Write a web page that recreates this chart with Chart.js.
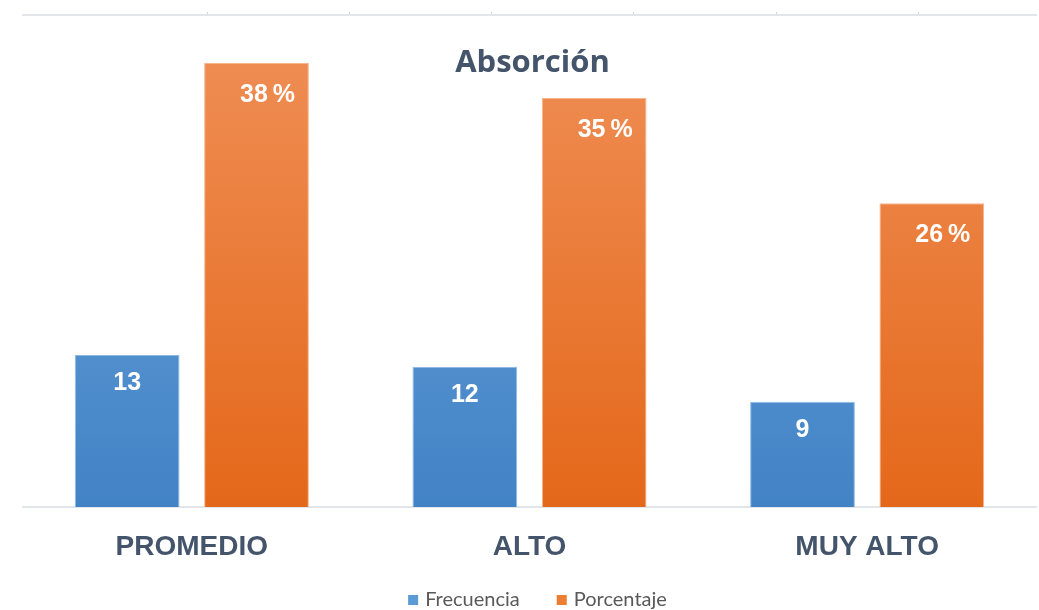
<!DOCTYPE html>
<html>
<head>
<meta charset="utf-8">
<script src="https://cdn.jsdelivr.net/npm/chart.js@4.4.1/dist/chart.umd.min.js"></script>
<style>
  html, body { margin: 0; padding: 0; background: #ffffff; }
  #wrap { width: 1039px; height: 610px; position: relative; }
</style>
</head>
<body>
<div id="wrap"><canvas id="chart"></canvas></div>
<script>
// values
const categories = ['PROMEDIO', 'ALTO', 'MUY ALTO'];
const frecuencia = [13, 12, 9];
const porcentaje = [38, 35, 26];
const topTicks = [1, 2, 3, 4, 5, 6];
const chartTitle = 'Absorción';
const legendColors = ['#5b9bd5', '#ed7d31'];

const TITLE_COLOR = '#44546a';

function vGradient(ctx, top, bottom) {
  const chart = ctx.chart;
  const area = chart.chartArea;
  if (!area) return top;
  const g = chart.ctx.createLinearGradient(0, area.top, 0, area.bottom);
  g.addColorStop(0, top);
  g.addColorStop(1, bottom);
  return g;
}

// title sits inside the plot area, like the Excel original
const innerTitle = {
  id: 'innerTitle',
  afterDraw(chart) {
    const { ctx, chartArea } = chart;
    ctx.save();
    ctx.font = 'bold 31px "Open Sans", sans-serif';
    ctx.fillStyle = TITLE_COLOR;
    ctx.textAlign = 'center';
    ctx.textBaseline = 'middle';
    ctx.fillText(chartTitle, (chartArea.left + chartArea.right) / 2 + 3, chartArea.top + 48);
    ctx.restore();
  }
};

// white value labels inside the top of each bar
const barLabels = {
  id: 'barLabels',
  afterDatasetsDraw(chart) {
    const { ctx } = chart;
    ctx.save();
    ctx.fillStyle = '#ffffff';
    ctx.textBaseline = 'middle';
    ctx.textAlign = 'center';
    ctx.font = 'bold 25px "Liberation Sans", Arial, sans-serif';
    chart.data.datasets.forEach((ds, di) => {
      const meta = chart.getDatasetMeta(di);
      meta.data.forEach((bar, i) => {
        const v = ds.data[i];
        if (di === 0) {
          ctx.fillText(String(v), bar.x, bar.y + 28);
        } else {
          ctx.fillText(v + '\u2009%', bar.x + 11, bar.y + 32);
        }
      });
    });
    ctx.restore();
  }
};

// legend drawn by hand so it can sit close to the bottom edge
const bottomLegend = {
  id: 'bottomLegend',
  afterDraw(chart) {
    const { ctx, chartArea } = chart;
    const box = 10, gap = 7, spacing = 37;
    ctx.save();
    ctx.font = '20px Lato, "Open Sans", sans-serif';
    const items = chart.data.datasets.map((ds, i) => ({
      text: ds.label,
      color: legendColors[i],
      w: ctx.measureText(ds.label).width
    }));
    const total = items.reduce((s, it) => s + box + gap + it.w, 0) + spacing * (items.length - 1);
    let x = (chartArea.left + chartArea.right) / 2 + 8 - total / 2;
    const y = chart.height - 10;
    ctx.textBaseline = 'middle';
    ctx.textAlign = 'left';
    items.forEach(it => {
      ctx.fillStyle = it.color;
      ctx.fillRect(x, y - box / 2, box, box);
      x += box + gap;
      ctx.fillStyle = '#595959';
      ctx.fillText(it.text, x, y);
      x += it.w + spacing;
    });
    ctx.restore();
  }
};

const ctx = document.getElementById('chart').getContext('2d');
new Chart(ctx, {
  type: 'bar',
  data: {
    labels: categories,
    datasets: [
      {
        label: 'Frecuencia',
        data: frecuencia,
        backgroundColor: c => vGradient(c, '#70a7dd', '#4283c6'),
        borderColor: '#8dbbe6',
        borderWidth: 1,
        categoryPercentage: 0.766,
        barPercentage: 0.81
      },
      {
        label: 'Porcentaje',
        data: porcentaje,
        backgroundColor: c => vGradient(c, '#f09058', '#e4681a'),
        borderColor: '#f7b58c',
        borderWidth: 1,
        categoryPercentage: 0.766,
        barPercentage: 0.81
      }
    ]
  },
  options: {
    responsive: true,
    maintainAspectRatio: false,
    animation: false,
    layout: { padding: { top: 12, left: 23, right: 3, bottom: 22 } },
    plugins: {
      title: { display: false },
      tooltip: { enabled: false },
      legend: { display: false }
    },
    scales: {
      x: {
        grid: { display: false, drawTicks: false },
        border: { display: true, color: '#e2e6eb', width: 2 },
        ticks: {
          color: TITLE_COLOR,
          padding: 30,
          font: { family: '"Liberation Sans", Arial, sans-serif', size: 28, weight: 'bold', lineHeight: 0.75 }
        }
      },
      x2: {
        type: 'linear',
        position: 'top',
        offset: false,
        min: -0.3,
        max: 6.83,
        afterBuildTicks(axis) {
          axis.ticks = topTicks.map(v => ({ value: v }));
        },
        grid: { display: true, offset: false, drawOnChartArea: false, drawTicks: true, tickLength: 3, color: '#d0d5dc' },
        border: { display: true, color: '#e2e6eb', width: 2 },
        ticks: { display: false }
      },
      y: {
        min: 0,
        max: 42.1,
        display: false,
        grid: { display: false }
      }
    }
  },
  plugins: [innerTitle, barLabels, bottomLegend]
});
</script>
</body>
</html>
